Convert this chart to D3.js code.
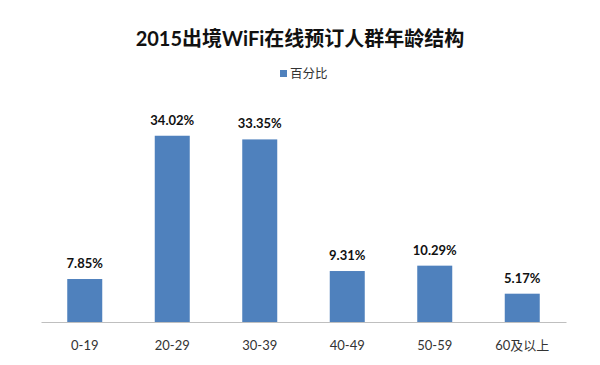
<!DOCTYPE html>
<html><head><meta charset="utf-8">
<script src="https://cdn.jsdelivr.net/npm/d3@7"></script>
<style>body{margin:0;background:#fff;} text{font-family:Lato,"Noto Sans CJK SC",sans-serif;}</style>
</head><body><svg id="c" width="600" height="365"></svg>
<script>
const categories = ["0-19","20-29","30-39","40-49","50-59","60及以上"];
const values = [7.85,34.02,33.35,9.31,10.29,5.17];
const labels = ["7.85%","34.02%","33.35%","9.31%","10.29%","5.17%"];
const seriesName = "百分比";
const title = "2015出境WiFi在线预订人群年龄结构";

const svg = d3.select("#c");
const m = {left:41, right:34, top:103, bottom:43};
const W = 600, H = 365;
const x = d3.scaleBand().domain(categories).range([m.left, W-m.right]).paddingInner(0.6).paddingOuter(0.3);
const y = d3.scaleLinear().domain([0,40]).range([H-m.bottom, m.top]);

svg.append("rect").attr("width",W).attr("height",H).attr("fill","#fff");

svg.append("text").attr("x",300).attr("y",46).attr("text-anchor","middle")
  .attr("font-size",20).attr("font-weight","bold").attr("fill","#111").text(title);

const lg = svg.append("g");
lg.append("rect").attr("x",280).attr("y",70).attr("width",7).attr("height",7).attr("fill","#4F81BD");
lg.append("text").attr("x",290).attr("y",78).attr("font-size",12.5).attr("fill","#333").text(seriesName);

svg.selectAll("rect.bar").data(values).enter().append("rect").attr("class","bar")
  .attr("x",(d,i)=>x(categories[i])).attr("width",x.bandwidth())
  .attr("y",d=>y(d)).attr("height",d=>y(0)-y(d)).attr("fill","#4F81BD");

svg.selectAll("text.lbl").data(values).enter().append("text").attr("class","lbl")
  .attr("x",(d,i)=>x(categories[i])+x.bandwidth()/2).attr("y",d=>y(d)-11)
  .attr("text-anchor","middle").attr("font-size",13).attr("font-weight","bold").attr("fill","#111")
  .text((d,i)=>labels[i]);

const ax = svg.append("g").attr("transform",`translate(0,${y(0)})`)
  .call(d3.axisBottom(x).tickSize(0).tickPadding(19));
ax.select(".domain").attr("stroke","#BFBFBF").attr("stroke-width",1.2);
ax.selectAll("text").attr("font-size",13).attr("fill","#333")
  .style("font-family",'Lato,"Noto Sans CJK SC",sans-serif');
</script></body></html>
